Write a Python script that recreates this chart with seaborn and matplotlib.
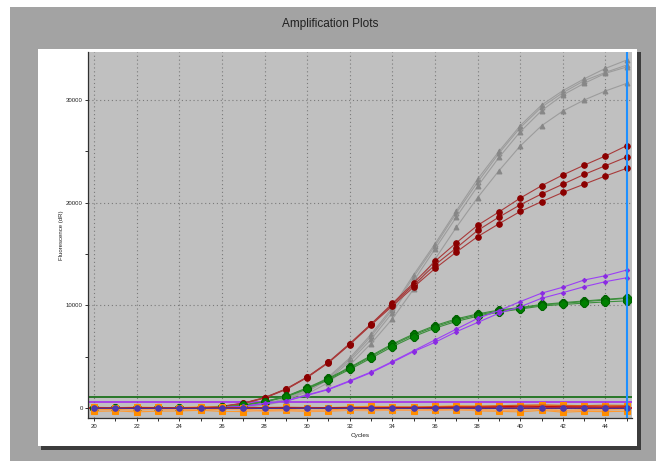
import matplotlib
matplotlib.use("Agg")
import matplotlib.pyplot as plt
from matplotlib.patches import Rectangle
from matplotlib.ticker import MultipleLocator
import numpy as np
import pandas as pd
import seaborn as sns

# ---- amplification data (fluorescence dR per cycle) ----
cycles = list(range(20, 46))

gray_a = [30, 20, 10, 0, 20, 30, 60, 150, 420, 950, 1800, 3050, 4900, 7200, 9800, 13000,
          16000, 19200, 22300, 25000, 27500, 29500, 30900, 32050, 33070, 33880]
gray_b = [20, 10, 0, 10, 10, 20, 50, 120, 380, 880, 1700, 2950, 4750, 7000, 9600, 12800,
          15800, 19000, 22000, 24800, 27300, 29300, 30700, 31870, 32680, 33390]
gray_c = [10, 0, 10, 0, 0, 10, 40, 100, 350, 820, 1600, 2800, 4550, 6700, 9300, 12400,
          15500, 18600, 21600, 24400, 26900, 28950, 30480, 31610, 32590, 33200]
gray_d = [0, 10, 0, 0, 10, 0, 30, 80, 300, 700, 1400, 2500, 4200, 6300, 8700, 11600,
          14500, 17600, 20500, 23110, 25520, 27490, 28920, 29990, 30870, 31610]

red_a = [60, 50, 60, 40, 50, 80, 200, 500, 1050, 1880, 3050, 4500, 6300, 8200, 10200, 12200,
         14300, 16100, 17800, 19100, 20450, 21650, 22700, 23650, 24550, 25550]
red_b = [50, 40, 50, 30, 40, 70, 180, 480, 1020, 1850, 3020, 4470, 6250, 8170, 10100, 12000,
         13950, 15600, 17300, 18600, 19800, 20850, 21800, 22750, 23600, 24450]
red_c = [40, 30, 40, 20, 30, 60, 160, 460, 990, 1820, 2990, 4430, 6200, 8100, 9950, 11800,
         13600, 15200, 16700, 17950, 19150, 20100, 21000, 21800, 22600, 23350]

green_a = [30, 20, 30, 20, 30, 50, 110, 320, 660, 1160, 2000, 2920, 3980, 5120, 6260, 7230,
           8050, 8700, 9180, 9560, 9800, 10100, 10280, 10440, 10600, 10750]
green_b = [20, 10, 20, 10, 20, 40, 100, 300, 640, 1130, 1950, 2850, 3900, 5020, 6160, 7130,
           7940, 8590, 9080, 9470, 9730, 10050, 10210, 10370, 10540, 10700]
green_c = [10, 0, 10, 0, 10, 30, 90, 280, 610, 1090, 1880, 2760, 3780, 4880, 6000, 6980,
           7800, 8450, 8960, 9360, 9650, 9950, 10100, 10230, 10350, 10450]

purple_a = [10, 0, 10, 0, 10, 20, 80, 200, 480, 720, 1300, 1870, 2680, 3530, 4550, 5600,
            6650, 7700, 8750, 9500, 10380, 11200, 11780, 12480, 12900, 13450]
purple_b = [0, 10, 0, 10, 0, 10, 70, 180, 450, 690, 1260, 1820, 2620, 3470, 4480, 5520,
            6420, 7450, 8350, 9250, 9880, 10700, 11250, 11830, 12320, 12700]

orange_a = [-150, -100, -200, -50, -120, -180, -80, -60, -250, -100, -200, -150, -50, -100,
            -80, -60, -100, -30, -120, -200, -150, -100, -250, -120, -150, -100]
orange_b = [100, 50, 120, 80, 60, 150, 90, 60, 40, 80, 30, 60, 120, 200, 150, 100, 180, 260,
            200, 220, 250, 300, 280, 260, 240, 200]
orange_c = [-300, -250, -350, -280, -260, -200, -300, -320, -150, -200, -330, -280, -200,
            -150, -180, -220, -160, -120, -250, -300, -350, -200, -380, -300, -330, -280]
orange_pale = [-50, 0, -100, -150, -80, -30, 0, -200, -300, -250, -280, -230, -200, -250,
               -180, -200, -220, -150, -200, -250, -150, -100, -180, -200, -150, -100]
orange_dark = [20, 10, 0, 30, 50, 40, 30, 60, 80, 100, 80, 70, 90, 100, 120, 130, 150, 180,
               200, 250, 300, 320, 280, 260, 300, 280]
ntc_blue = [0, 10, -10, 5, 0, -5, 10, 0, -10, 0, 5, -5, 0, 10, 0, -10, 5, 0, 0, -5, 10, 0,
            5, 0, -5, 0]
baseline_red = [50, 40, 60, 50, 30, 40, 60, 40, 50, 60, 40, 50, 60, 50, 70, 60, 80, 100, 120,
                150, 200, 180, 160, 150, 140, 150]

thresholds = [1070, 580, 60]
threshold_colors = ["#006400", "#a020f0", "#d00000"]
cursor_cycle = 45

y_major = [0, 10000, 20000, 30000]
y_labels = ["0", "10000", "20000", "30000"]


def long_frame(series):
    rows = []
    for name, vals in series.items():
        for c, v in zip(cycles, vals):
            rows.append({"well": name, "cycle": c, "fluor": v})
    return pd.DataFrame(rows)


W, H = 656, 461
fig = plt.figure(figsize=(W / 100, H / 100), dpi=100, facecolor="#a3a3a3")

# window chrome: white margins, drop shadow and white chart panel
chrome = [
    ((0, 0), 10 / W, 1, "white"),
    ((0, 1 - 7 / H), 1, 7 / H, "white"),
    ((41 / W, 1 - 449.5 / H), 600 / W, 397.5 / H, "#3c3c3c"),
    ((38 / W, 1 - 446 / H), 599 / W, 397 / H, "white"),
]
for xy, w, h, col in chrome:
    fig.patches.append(Rectangle(xy, w, h, transform=fig.transFigure,
                                 facecolor=col, edgecolor="none", zorder=-5))

fig.text(330 / W, 1 - 24 / H, "Amplification Plots", ha="center", va="center",
         fontsize=8.5, family="Liberation Sans", color="#202020")

ax = fig.add_axes([88.3 / W, 1 - 418.3 / H, 543.4 / W, 366 / H])
ax.set_zorder(2)
ax.set_facecolor("#c0c0c0")

# threshold lines
for t, col in zip(thresholds, threshold_colors):
    ax.axhline(t, color=col, lw=1.1, zorder=1)

groups = [
    ({"g1": gray_a, "g2": gray_b, "g3": gray_c, "g4": gray_d},
     dict(color="#9c9c9c", marker="^", markersize=3.5, mfc="#878787", mec="#878787")),
    ({"r1": red_a, "r2": red_b, "r3": red_c},
     dict(color="#a83a3a", marker="o", markersize=4, mfc="#8b0000", mec="#8b0000")),
    ({"gr1": green_a, "gr2": green_b, "gr3": green_c},
     dict(color="#3c8f3c", marker="8", markersize=5.5, mfc="#008000", mec="#006400")),
    ({"p1": purple_a, "p2": purple_b},
     dict(color="#9b40f5", marker="D", markersize=2.2, mfc="#8a2be2", mec="#8a2be2")),
    ({"o1": orange_a, "o2": orange_b, "o3": orange_c},
     dict(color="#ff9a30", marker="s", markersize=5, mfc="#ff8c00", mec="#ff8c00")),
    ({"o4": orange_pale}, dict(color="#f4a460", marker=None)),
    ({"o5": orange_dark}, dict(color="#d2561e", marker=None)),
    ({"b0": baseline_red}, dict(color="#c01010", marker=None)),
    ({"n1": ntc_blue},
     dict(color="#3c2ca0", marker="o", markersize=4, mfc="#4a3ab0", mec="#4a3ab0")),
]

for series, style in groups:
    df = long_frame(series)
    kw = dict(style)
    color = kw.pop("color")
    sns.lineplot(data=df, x="cycle", y="fluor", units="well", estimator=None,
                 color=color, lw=0.8, legend=False, ax=ax, zorder=3, **kw)

ax.axvline(cursor_cycle, color="#1e90ff", lw=1.5, zorder=5)

ax.set_xlim(19.73, 45.23)
ax.set_ylim(-973, 34630)

ax.xaxis.set_major_locator(MultipleLocator(2))
ax.xaxis.set_minor_locator(MultipleLocator(1))
ax.set_yticks(y_major)
ax.set_yticklabels(y_labels)
ax.yaxis.set_minor_locator(MultipleLocator(5000))

ax.grid(True, which="major", color="#7a7a7a", linestyle=(0, (1, 2.5)), lw=0.8, zorder=0)
ax.set_axisbelow(True)

for s in ["top", "right"]:
    ax.spines[s].set_visible(False)
for s in ["left", "bottom"]:
    ax.spines[s].set_color("#303030")
    ax.spines[s].set_linewidth(0.9)

ax.tick_params(axis="both", which="both", direction="out", color="#303030",
               labelsize=4.3, labelcolor="#202020", length=2.5, width=0.7, pad=1.5)
for lab in ax.get_xticklabels() + ax.get_yticklabels():
    lab.set_family("Liberation Sans")

ax.set_xlabel("")
ax.set_ylabel("")
fig.text(360 / W, 1 - 435 / H, "Cycles", ha="center", va="center", fontsize=4.6,
         family="Liberation Sans", color="#202020")
fig.text(61.7 / W, 1 - 235 / H, "Fluorescence (dR)", ha="center", va="center",
         rotation=90, fontsize=4.3, family="Liberation Sans", color="#202020")

fig.savefig("out.png", dpi=100, facecolor=fig.get_facecolor())
